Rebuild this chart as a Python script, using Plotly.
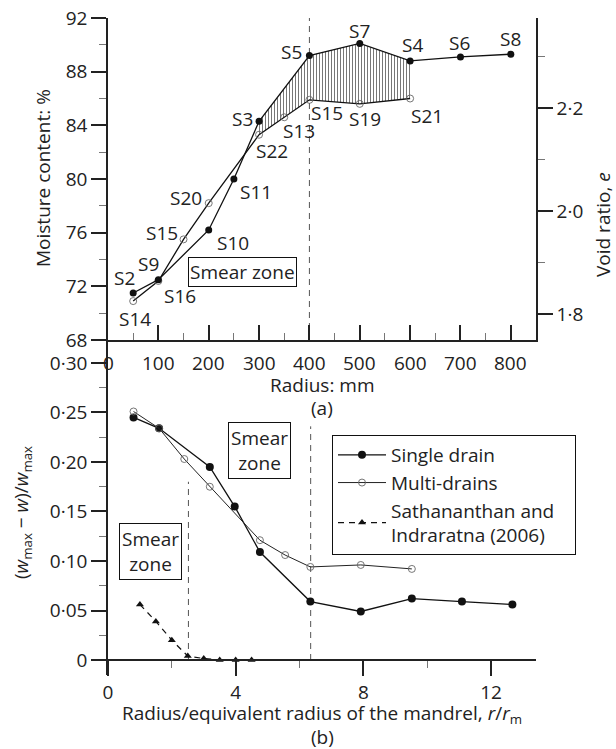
import plotly.graph_objects as go

# ---------------- data (a) ----------------
radius_single_mm = [50, 100, 200, 250, 300, 400, 500, 600, 700, 800]
moisture_single = [71.5, 72.5, 76.2, 80.0, 84.3, 89.2, 90.1, 88.8, 89.1, 89.3]
radius_multi_mm = [50, 100, 150, 200, 300, 350, 400, 500, 600]
moisture_multi = [70.9, 72.4, 75.5, 78.2, 83.3, 84.6, 85.9, 85.6, 86.0]

sample_labels = ["S2", "S9", "S16", "S14", "S15", "S20", "S10", "S11", "S3", "S22",
                 "S13", "S5", "S15", "S19", "S21", "S7", "S4", "S6", "S8"]
label_x = [32, 81, 143, 54, 107, 155, 248, 294, 268, 326,
           379, 365, 435, 510, 634, 500, 604, 699, 800]
label_y = [72.6, 73.7, 71.3, 69.6, 76.0, 78.6, 75.2, 79.0, 84.5, 82.1,
           83.6, 89.5, 84.9, 84.5, 84.7, 91.0, 90.0, 90.1, 90.4]

radius_ticks_mm = [0, 100, 200, 300, 400, 500, 600, 700, 800]

hatch_from_mm, hatch_to_mm = 300, 600
smear_boundary_mm = 400

# ---------------- data (b) ----------------
rr_single = [0.80, 1.60, 3.19, 3.97, 4.76, 6.34, 7.92, 9.52, 11.09, 12.67]
ratio_single = [0.245, 0.234, 0.195, 0.155, 0.109, 0.059, 0.049, 0.062, 0.059, 0.056]
rr_multi = [0.80, 1.60, 2.39, 3.19, 4.76, 5.55, 6.34, 7.92, 9.52]
ratio_multi = [0.251, 0.234, 0.203, 0.175, 0.121, 0.106, 0.094, 0.096, 0.092]
rr_sath = [1.0, 1.5, 2.0, 2.5, 3.0, 3.5, 4.0, 4.5]
ratio_sath = [0.056, 0.039, 0.020, 0.004, 0.0015, 0.0, 0.0, 0.0]

smear_lines_b = [(2.52, 0.18), (6.35, 0.236)]

W, H = 616, 749
FONT = "Open Sans"
FS = 19
TXT = "#222"


def px(x):
    return x / W


def py(y):
    return 1 - y / H


fig = go.Figure()

# hatched area between the two curves (a)
hx_m = [x for x in radius_multi_mm if hatch_from_mm <= x <= hatch_to_mm]
hy_m = [y for x, y in zip(radius_multi_mm, moisture_multi) if hatch_from_mm <= x <= hatch_to_mm]
hx_s = [x for x in radius_single_mm if hatch_from_mm <= x <= hatch_to_mm]
hy_s = [y for x, y in zip(radius_single_mm, moisture_single) if hatch_from_mm <= x <= hatch_to_mm]
fig.add_trace(go.Scatter(x=hx_m, y=hy_m, mode="lines", line=dict(width=0),
                         showlegend=False, hoverinfo="skip", xaxis="x", yaxis="y"))
fig.add_trace(go.Scatter(x=hx_s, y=hy_s, mode="lines", line=dict(width=0),
                         fill="tonexty", fillcolor="white",
                         fillpattern=dict(shape="|", fgcolor="#777", bgcolor="white",
                                          size=3, solidity=0.35),
                         showlegend=False, hoverinfo="skip", xaxis="x", yaxis="y"))

# (a) curves
fig.add_trace(go.Scatter(x=radius_multi_mm, y=moisture_multi, mode="lines+markers",
                         line=dict(color="#111", width=1.3),
                         marker=dict(symbol="circle-open", size=7, color="#666",
                                     line=dict(width=0.9, color="#666")),
                         showlegend=False, xaxis="x", yaxis="y"))
fig.add_trace(go.Scatter(x=radius_single_mm, y=moisture_single, mode="lines+markers",
                         line=dict(color="#111", width=1.3),
                         marker=dict(symbol="circle", size=7, color="#111"),
                         showlegend=False, xaxis="x", yaxis="y"))
# empty trace so that the void-ratio axis is drawn
fig.add_trace(go.Scatter(x=[None], y=[None], mode="lines", showlegend=False,
                         hoverinfo="skip", xaxis="x", yaxis="y2"))

# (b) curves
fig.add_trace(go.Scatter(x=rr_single, y=ratio_single, mode="lines+markers",
                         name="Single drain",
                         line=dict(color="#111", width=1.3),
                         marker=dict(symbol="circle", size=8, color="#111"),
                         xaxis="x2", yaxis="y3"))
fig.add_trace(go.Scatter(x=rr_multi, y=ratio_multi, mode="lines+markers",
                         name="Multi-drains",
                         line=dict(color="#222", width=1.0),
                         marker=dict(symbol="circle-open", size=7, color="#666",
                                     line=dict(width=0.9, color="#666")),
                         xaxis="x2", yaxis="y3"))
fig.add_trace(go.Scatter(x=rr_sath, y=ratio_sath, mode="lines+markers",
                         name="Sathananthan and\u00a0\u00a0\u00a0<br>Indraratna (2006)",
                         line=dict(color="#111", width=1.2, dash="6px,5px"),
                         marker=dict(symbol="triangle-up", size=7, color="#111"),
                         xaxis="x2", yaxis="y3"))

shapes = [
    dict(type="line", xref="x", yref="paper", x0=smear_boundary_mm, x1=smear_boundary_mm,
         y0=py(340), y1=py(18), line=dict(color="#555", width=1, dash="6px,5px"), layer="below"),
]
for xr, ytop in smear_lines_b:
    shapes.append(dict(type="line", xref="x2", yref="y3", x0=xr, x1=xr, y0=0, y1=ytop,
                       line=dict(color="#555", width=1, dash="6px,5px"), layer="below"))

annotations = []
for t, x, y in zip(sample_labels, label_x, label_y):
    annotations.append(dict(text=t, x=x, y=y, xref="x", yref="y", showarrow=False,
                            font=dict(family=FONT, size=FS, color=TXT)))

# tick labels of the radius axis (a), drawn as text so that "0" is kept
for v in radius_ticks_mm:
    annotations.append(dict(text=str(v), x=v, y=py(363), xref="x", yref="paper",
                            showarrow=False, xanchor="center", yanchor="middle",
                            font=dict(family=FONT, size=FS, color=TXT)))

annotations.append(dict(text="Smear zone", x=268, y=73.05, xref="x", yref="y", showarrow=False,
                        font=dict(family=FONT, size=FS, color=TXT),
                        bordercolor="#111", borderwidth=1, borderpad=1, bgcolor="white"))
annotations.append(dict(text="Smear<br>zone", x=4.75, y=0.212, xref="x2", yref="y3", showarrow=False,
                        font=dict(family=FONT, size=FS, color=TXT),
                        bordercolor="#111", borderwidth=1, borderpad=2, bgcolor="white"))
annotations.append(dict(text="Smear<br>zone", x=1.34, y=0.110, xref="x2", yref="y3", showarrow=False,
                        font=dict(family=FONT, size=FS, color=TXT),
                        bordercolor="#111", borderwidth=1, borderpad=2, bgcolor="white"))


def ptext(text, x, y, angle=0):
    annotations.append(dict(text=text, x=px(x), y=py(y), xref="paper", yref="paper",
                            showarrow=False, textangle=angle, xanchor="center", yanchor="middle",
                            font=dict(family=FONT, size=FS, color=TXT)))


ptext("Radius: mm", 322, 385)
ptext("(a)", 322, 408)
ptext("Moisture content: %", 43, 178, -90)
ptext("Void ratio, <i>e</i>", 603, 225, -90)
ptext("(<i>w</i><sub>max</sub> − <i>w</i>)/<i>w</i><sub>max</sub>", 22, 513, -90)
ptext("Radius/equivalent radius of the mandrel, <i>r</i>/<i>r</i><sub>m</sub>", 322, 714)
ptext("(b)", 322, 737)

axis_common = dict(showline=True, linecolor="#222", linewidth=1.5, showgrid=False,
                   zeroline=False, tickcolor="#222", tickwidth=1.5, automargin=False,
                   tickfont=dict(family=FONT, size=FS, color=TXT))

xdom = [px(108), px(536)]

fig.update_layout(
    template="none",
    width=W, height=H, margin=dict(l=0, r=0, t=0, b=0, pad=0, autoexpand=False),
    paper_bgcolor="white", plot_bgcolor="rgba(0,0,0,0)",
    font=dict(family=FONT, size=FS, color=TXT),
    xaxis=dict(domain=xdom, range=[0, 850], anchor="y",
               tickmode="array", tickvals=radius_ticks_mm, showticklabels=False,
               ticks="inside", ticklen=15,
               minor=dict(tickmode="array", tickvals=[50, 150, 250, 350, 450, 550, 650, 750],
                          ticks="inside", ticklen=7, tickcolor="#777", tickwidth=1),
               **axis_common),
    yaxis=dict(domain=[py(340), py(18)], range=[68, 92], anchor="x",
               tickmode="array", tickvals=[68, 72, 76, 80, 84, 88, 92],
               ticks="outside", ticklen=15,
               minor=dict(tickmode="array", tickvals=[70, 74, 78, 82, 86, 90],
                          ticks="outside", ticklen=7, tickcolor="#777", tickwidth=1),
               **axis_common),
    yaxis2=dict(overlaying="y", side="right", anchor="x", range=[1.7505, 2.3748],
                tickmode="array", tickvals=[1.8, 2.0, 2.2], ticktext=["1·8", "2·0", "2·2"],
                ticks="outside", ticklen=15,
                minor=dict(tickmode="array", tickvals=[1.9, 2.1, 2.3],
                           ticks="outside", ticklen=7, tickcolor="#777", tickwidth=1),
                **axis_common),
    xaxis2=dict(domain=xdom, range=[0, 13.41], anchor="free", position=py(660),
                tickmode="array", tickvals=[0, 4, 8, 12],
                ticks="outside", ticklen=15,
                minor=dict(tickmode="array", tickvals=[2, 6, 10],
                           ticks="outside", ticklen=7, tickcolor="#777", tickwidth=1),
                **axis_common),
    yaxis3=dict(domain=[py(675), py(340)], range=[-0.01515, 0.3232], anchor="x2",
                tickmode="array", tickvals=[0, 0.05, 0.10, 0.15, 0.20, 0.25, 0.30],
                ticktext=["0", "0·05", "0·10", "0·15", "0·20", "0·25", "0·30"],
                ticks="outside", ticklen=15,
                minor=dict(tickmode="array", tickvals=[0.025, 0.075, 0.125, 0.175, 0.225, 0.275],
                           ticks="outside", ticklen=7, tickcolor="#777", tickwidth=1),
                **axis_common),
    legend=dict(x=px(332), y=py(435), xanchor="left", yanchor="top",
                bordercolor="#111", borderwidth=1, bgcolor="white",
                font=dict(family=FONT, size=FS, color=TXT), itemwidth=48,
                traceorder="normal", tracegroupgap=0),
    shapes=shapes, annotations=annotations,
)

fig.write_html("out.html", config={"displayModeBar": False},
               post_script="document.body.style.margin='0';document.body.style.overflow='hidden';")
